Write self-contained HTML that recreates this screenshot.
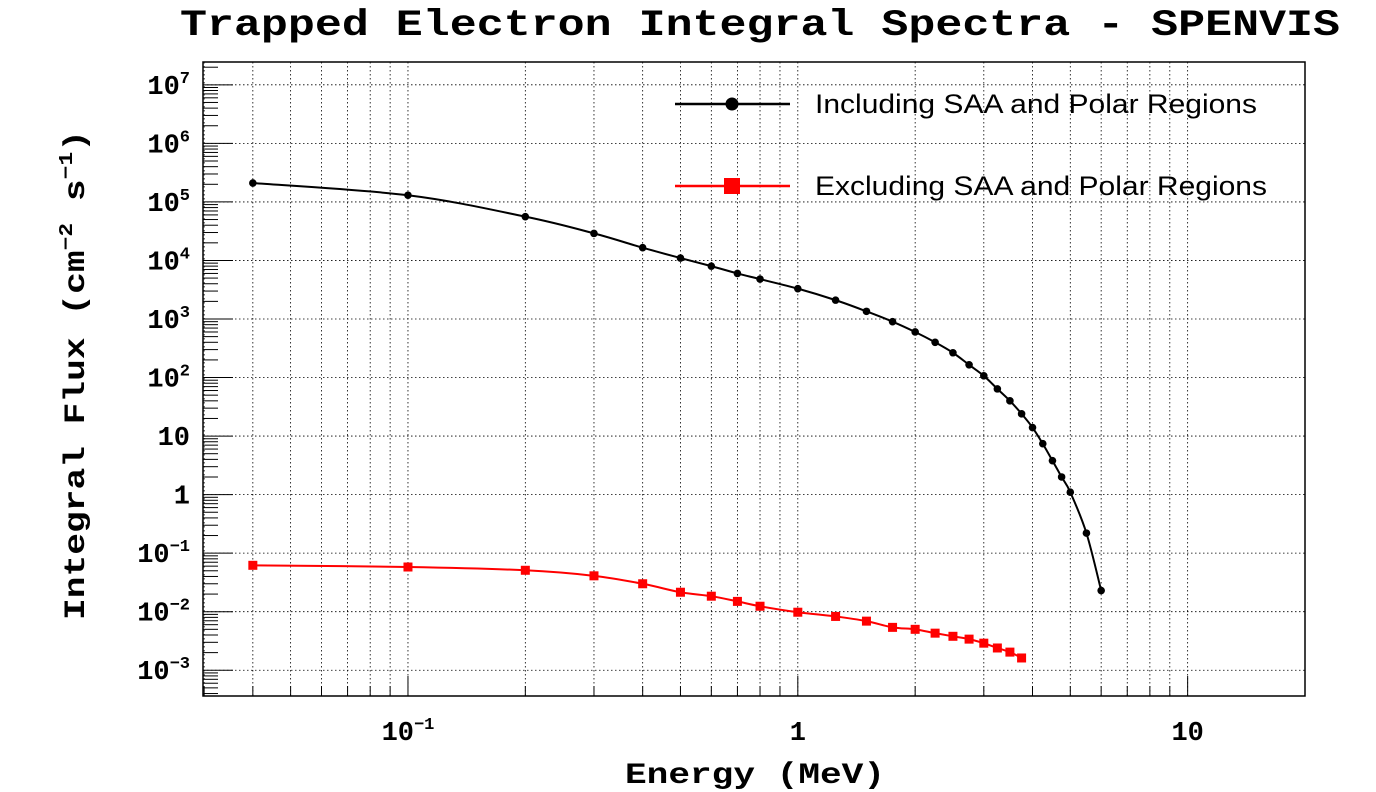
<!DOCTYPE html>
<html><head><meta charset="utf-8"><style>
body{margin:0;background:#fff;}
svg{display:block;}
.tk{font-family:"Liberation Mono",monospace;font-weight:bold;font-size:27px;fill:#000;}
.sup{font-size:17px;}
</style></head><body>
<svg id="chart" width="1376" height="792" xmlns="http://www.w3.org/2000/svg">
<text x="180" y="35" textLength="1160" lengthAdjust="spacingAndGlyphs" font-family="Liberation Mono, monospace" font-weight="bold" font-size="37">Trapped Electron Integral Spectra - SPENVIS</text>
<g id="grid"></g>
<rect x="203" y="62" width="1102" height="634" fill="none" stroke="#000" stroke-width="1.5"/>
<g id="axes"></g>
<g id="series"></g>
<text x="625" y="783" textLength="260" lengthAdjust="spacingAndGlyphs" font-family="Liberation Mono, monospace" font-weight="bold" font-size="30">Energy (MeV)</text>
<text transform="translate(84,620) rotate(-90)" textLength="490" lengthAdjust="spacingAndGlyphs" font-family="Liberation Mono, monospace" font-weight="bold" font-size="30">Integral Flux (cm<tspan dy="-12" font-size="19">−2</tspan><tspan dy="12"> s</tspan><tspan dy="-12" font-size="19">−1</tspan><tspan dy="12">)</tspan></text>
<g>
<g>
<line x1="675" y1="104" x2="790" y2="104" stroke="#000" stroke-width="2.5"/>
<circle cx="732" cy="104" r="6.5" fill="#000"/>
<text x="815" y="113" textLength="442" lengthAdjust="spacingAndGlyphs" font-family="Liberation Sans, sans-serif" font-size="27">Including SAA and Polar Regions</text></g>
<g>
<line x1="675" y1="186" x2="790" y2="186" stroke="#f00" stroke-width="2.5"/>
<rect x="724" y="178" width="16" height="16" fill="#f00"/>
<text x="815" y="195" textLength="452" lengthAdjust="spacingAndGlyphs" font-family="Liberation Sans, sans-serif" font-size="27">Excluding SAA and Polar Regions</text></g>
</g>
</svg>
<script>
const energiesIncl=[0.04,0.1,0.2,0.3,0.4,0.5,0.6,0.7,0.8,1,1.25,1.5,1.75,2,2.25,2.5,2.75,3,3.25,3.5,3.75,4,4.25,4.5,4.75,5,5.5,6];
const fluxIncl=[2.1e5,1.3e5,5.6e4,2.9e4,1.65e4,1.1e4,8e3,6e3,4.8e3,3.3e3,2.1e3,1.35e3,900,600,400,265,165,107,64,40,24,14,7.4,3.8,2.0,1.1,0.22,0.023];
const energiesExcl=[0.04,0.1,0.2,0.3,0.4,0.5,0.6,0.7,0.8,1,1.25,1.5,1.75,2,2.25,2.5,2.75,3,3.25,3.5,3.75];
const fluxExcl=[0.062,0.058,0.051,0.041,0.030,0.0215,0.0184,0.015,0.0124,0.0098,0.0083,0.0069,0.0054,0.0050,0.0043,0.0038,0.0034,0.0029,0.0024,0.00204,0.00162];
const xTickVals=[0.1,1,10];
const xTickLabels=[["10","−1"],["1",null],["10",null]];
const yTickExps=[-3,-2,-1,0,1,2,3,4,5,6,7];

const NS="http://www.w3.org/2000/svg";
const X0=203,X1=1305,Y0=62,Y1=696;
const xmin=Math.log10(0.0298),xmax=Math.log10(20.0);
const ymin=-3.44,ymax=7.39;
const xs=v=>X0+(Math.log10(v)-xmin)/(xmax-xmin)*(X1-X0);
const ys=v=>Y1-(Math.log10(v)-ymin)/(ymax-ymin)*(Y1-Y0);
function mk(tag,attrs,parent){const e=document.createElementNS(NS,tag);for(const k in attrs)e.setAttribute(k,attrs[k]);parent.appendChild(e);return e;}
const grid=document.getElementById('grid'),axes=document.getElementById('axes'),series=document.getElementById('series');
for(let d=-2;d<=1;d++){for(let m=1;m<=9;m++){const v=m*Math.pow(10,d);const x=xs(v);if(x<X0||x>X1)continue;
const g=mk('line',{x1:x,x2:x,y1:Y0,y2:Y1,stroke:'#000','stroke-width':0.8,'stroke-dasharray':'1.5,2.5'},grid);


const t=mk('line',{x1:x,x2:x,y1:Y1,y2:Y1-(m===1?20:10),stroke:'#000','stroke-width':1},axes);

}}
xTickVals.forEach((v,i)=>{const t=mk('text',{x:xs(v),y:740,'text-anchor':'middle',class:'tk'},axes);


t.textContent=xTickLabels[i][0];
if(xTickLabels[i][1]){const s=document.createElementNS(NS,'tspan');s.setAttribute('dy','-11');s.setAttribute('class','sup');s.textContent=xTickLabels[i][1];t.appendChild(s);}});
for(let e=-4;e<=7;e++){for(let m=1;m<=9;m++){const v=m*Math.pow(10,e);const y=ys(v);if(y<Y0||y>Y1)continue;
if(m===1){const g=mk('line',{x1:X0,x2:X1,y1:y,y2:y,stroke:'#000','stroke-width':0.8,'stroke-dasharray':'1.5,2.5'},grid);

}
const t=mk('line',{x1:X0,x2:X0+(m===1?30:15),y1:y,y2:y,stroke:'#000','stroke-width':1},axes);

}}
yTickExps.forEach(e=>{const y=ys(Math.pow(10,e))+9;const t=mk('text',{x:190,y:y,'text-anchor':'end',class:'tk'},axes);


if(e===0)t.textContent='1';else if(e===1)t.textContent='10';else{t.textContent='10';const s=document.createElementNS(NS,'tspan');s.setAttribute('dy','-11');s.setAttribute('class','sup');s.textContent=(e<0?'−'+(-e):String(e));t.appendChild(s);}});
function smooth(xv,yv){const P=xv.map((v,i)=>[xs(v),ys(yv[i])]);let d='M'+P[0][0]+','+P[0][1];
for(let i=0;i<P.length-1;i++){const p0=P[Math.max(i-1,0)],p1=P[i],p2=P[i+1],p3=P[Math.min(i+2,P.length-1)];
d+=' C'+(p1[0]+(p2[0]-p0[0])/6)+','+(p1[1]+(p2[1]-p0[1])/6)+' '+(p2[0]-(p3[0]-p1[0])/6)+','+(p2[1]-(p3[1]-p1[1])/6)+' '+p2[0]+','+p2[1];}return d;}
const l1=mk('path',{d:smooth(energiesIncl,fluxIncl),fill:'none',stroke:'#000','stroke-width':2},series);


energiesIncl.forEach((v,i)=>{const c=mk('circle',{cx:xs(v),cy:ys(fluxIncl[i]),r:3.8,fill:'#000'},series);

});
const l2=mk('path',{d:smooth(energiesExcl,fluxExcl),fill:'none',stroke:'#f00','stroke-width':2},series);


energiesExcl.forEach((v,i)=>{const r=mk('rect',{x:xs(v)-4.5,y:ys(fluxExcl[i])-4.5,width:9,height:9,fill:'#f00'},series);

});
</script>
</body></html>
